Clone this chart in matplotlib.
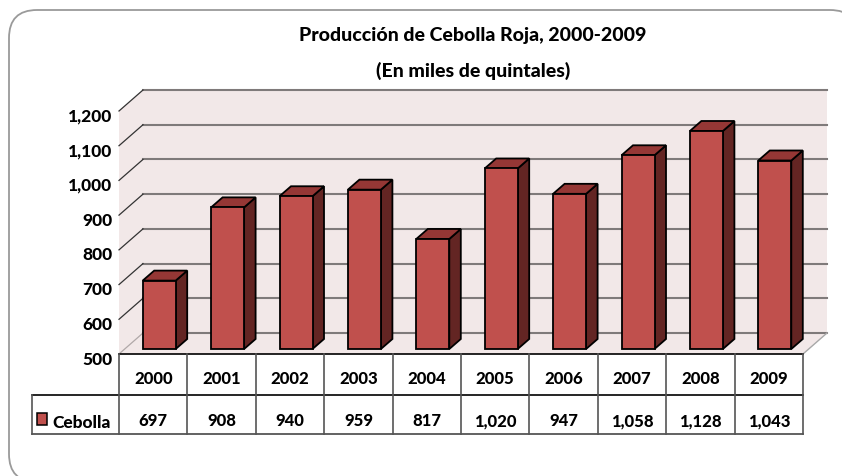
import matplotlib
matplotlib.use("Agg")
import matplotlib.pyplot as plt
from matplotlib.patches import FancyBboxPatch, Polygon, Rectangle

plt.rcParams['font.family'] = ['Lato', 'DejaVu Sans']

years = ["2000", "2001", "2002", "2003", "2004", "2005", "2006", "2007", "2008", "2009"]
cebolla = [697, 908, 940, 959, 817, 1020, 947, 1058, 1128, 1043]
value_labels = ["697", "908", "940", "959", "817", "1,020", "947", "1,058", "1,128", "1,043"]
y_ticks = [500, 600, 700, 800, 900, 1000, 1100, 1200]
y_tick_labels = ["500", "600", "700", "800", "900", "1,000", "1,100", "1,200"]
title = "Producción de Cebolla Roja, 2000-2009"
subtitle = "(En miles de quintales)"
series_name = "Cebolla"

W, H = 842, 477
# pixel layout of the front plane
X0, XSTEP = 119, 68.4
Y500, YSCALE = 355, 243 / 700

FACE = "#c0504d"
TOP = "#953735"
SIDE = "#632523"
WALL = "#f2e8e8"
GRID = "#7f7a7a"
WEIGHT = 900

fig = plt.figure(figsize=(W / 100, H / 100), dpi=100)

# background axes in pixels, only for the rounded frame
bg = fig.add_axes([0, 0, 1, 1])
bg.set_xlim(0, W)
bg.set_ylim(H, 0)
bg.axis("off")
bg.add_patch(FancyBboxPatch((37, 39), 793, 416, boxstyle="round,pad=28,rounding_size=28",
                            fc="white", ec="#9a9a9a", lw=1.3))

# chart axes: x = category slot, y = value, same scale as the picture
ax = fig.add_axes([0, 0, 1, 1])
ax.patch.set_alpha(0)
ax.set_xlim(-X0 / XSTEP, (W - X0) / XSTEP)
ax.set_ylim(500 - (H - Y500) / YSCALE, 500 + Y500 / YSCALE)
ax.axis("off")

n = len(years)
# depth of the box, in data units
dx = 24 / XSTEP
dy = 21 / YSCALE
ymin, ymax = y_ticks[0], y_ticks[-1]

# left wall, back wall, floor
ax.add_patch(Polygon([(0, ymin), (dx, ymin + dy), (dx, ymax + dy), (0, ymax)], fc=WALL, ec="none", zorder=1))
ax.add_patch(Rectangle((dx, ymin + dy), n, ymax - ymin, fc=WALL, ec="none", zorder=1))
ax.add_patch(Polygon([(0, ymin), (n, ymin), (n + dx, ymin + dy), (dx, ymin + dy)], fc=WALL, ec="none", zorder=1))

for t, lab in zip(y_ticks, y_tick_labels):
    ax.plot([dx, n + dx], [t + dy, t + dy], color=GRID, lw=1.5, zorder=2)
    c = "#b0a8a8" if t == ymin else "#333333"
    ax.plot([0, dx], [t, t + dy], color=c, lw=0.9, zorder=2)
    ax.text(-0.1, t - 13, lab, ha="right", va="center",
            fontsize=12.5, fontweight=WEIGHT, color="black")
ax.plot([n, n + dx], [ymin, ymin + dy], color="#a8a8a8", lw=1, zorder=2)

# bars
bar_w = 33 / XSTEP
bar_dx = 11.5 / XSTEP
bar_dy = 10 / YSCALE
shift_x = 6 / XSTEP
shift_y = 5 / YSCALE
for i, v in enumerate(cebolla):
    x1 = i + 0.5 - bar_w / 2 + shift_x
    x2 = x1 + bar_w
    b = ymin + shift_y
    top = v + shift_y
    st = dict(ec="black", lw=1.3, joinstyle="miter", zorder=3)
    ax.add_patch(Polygon([(x2, b), (x2 + bar_dx, b + bar_dy), (x2 + bar_dx, top + bar_dy), (x2, top)], fc=SIDE, **st))
    ax.add_patch(Polygon([(x1, top), (x2, top), (x2 + bar_dx, top + bar_dy), (x1 + bar_dx, top + bar_dy)], fc=TOP, **st))
    ax.add_patch(Rectangle((x1, b), bar_w, top - b, fc=FACE, **st))

# data table under the plot
row1 = ymin - 41 / YSCALE
row2 = ymin - 80 / YSCALE
left = -87 / XSTEP
ax.plot([0, n], [ymin, ymin], color="black", lw=1.2, zorder=4)
ax.plot([left, n], [row1, row1], color="black", lw=1.2, zorder=4)
ax.plot([left, n], [row2, row2], color="#555555", lw=1.3, zorder=4)
ax.plot([left, left], [row1, row2], color="#555555", lw=1.2, zorder=4)
for i in range(n + 1):
    ax.plot([i, i], [ymin, row2], color="#555555", lw=1.2, zorder=4)
for i in range(n):
    ax.text(i + 0.5, (ymin + row1) / 2 - 4 / YSCALE, years[i], ha="center", va="center",
            fontsize=12, fontweight=WEIGHT, color="black")
    ax.text(i + 0.5, (row1 + row2) / 2 - 5.5 / YSCALE, value_labels[i], ha="center", va="center",
            fontsize=12, fontweight=WEIGHT, color="black")

# legend key and label
key_w = 10 / XSTEP
key_h = 12 / YSCALE
ax.add_patch(Rectangle((left + 4.5 / XSTEP, (row1 + row2) / 2 - key_h / 2 - 4 / YSCALE), key_w, key_h,
                       fc=FACE, ec="black", lw=1.1, zorder=4))
ax.text(-0.125, (row1 + row2) / 2 - 8 / YSCALE, series_name, ha="right", va="center",
        fontsize=12.5, fontweight=WEIGHT, color="black")

# titles
cx = (473 - X0) / XSTEP
ax.text(cx, 500 + (355 - 36) / YSCALE, title, ha="center", va="center", fontsize=14, fontweight=WEIGHT, color="black")
ax.text(cx, 500 + (355 - 71) / YSCALE, subtitle, ha="center", va="center", fontsize=14, fontweight=WEIGHT, color="black")

fig.savefig("out.png", dpi=100)
